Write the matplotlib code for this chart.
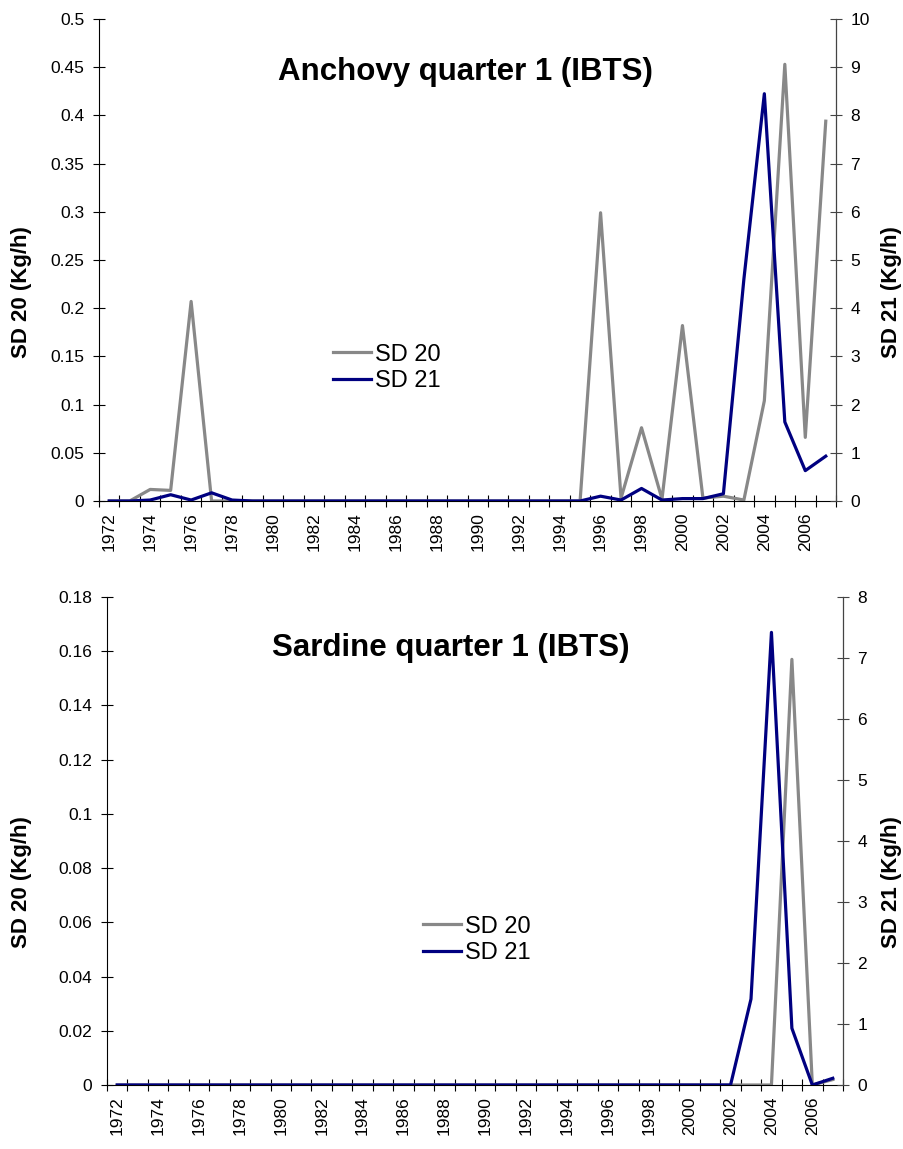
import matplotlib
matplotlib.use('agg')
import matplotlib.pyplot as plt
import numpy as np

plt.rcParams['font.family'] = ['Liberation Sans', 'DejaVu Sans']

years = list(range(1972, 2008))

# Anchovy quarter 1 (IBTS)
anchovy_sd20 = [0, 0, 0.012, 0.011, 0.207, 0, 0, 0, 0, 0,
                0, 0, 0, 0, 0, 0, 0, 0, 0, 0,
                0, 0, 0, 0, 0.299, 0.003, 0.076, 0.002, 0.182, 0.003,
                0.005, 0.001, 0.104, 0.453, 0.066, 0.394]
anchovy_sd21 = [0, 0, 0.02, 0.13, 0.02, 0.17, 0.02, 0, 0, 0,
                0, 0, 0, 0, 0, 0, 0, 0, 0, 0,
                0, 0, 0, 0, 0.1, 0.02, 0.26, 0.02, 0.05, 0.05,
                0.15, 4.6, 8.45, 1.64, 0.63, 0.93]

# Sardine quarter 1 (IBTS)
sardine_sd20 = [0] * 33 + [0.157, 0, 0.002]
sardine_sd21 = [0] * 30 + [0, 1.41, 7.42, 0.93, 0, 0.11]

GREY = '#888888'
NAVY = '#000080'
W, H = 904, 1149


def draw_panel(fig, rect, title, sd20, sd21, lmax, lstep, rmax, rstep,
               title_xy, legend_anchor, label_y):
    ax = fig.add_axes(rect)
    ax2 = ax.twinx()
    l1, = ax.plot(years, sd20, color=GREY, lw=2.3, label='SD 20')
    l2, = ax2.plot(years, sd21, color=NAVY, lw=2.3, label='SD 21')

    ax.set_xlim(years[0] - 0.5, years[-1] + 0.5)
    ax.set_ylim(0, lmax)
    ax2.set_ylim(0, rmax)
    lt = np.round(np.arange(0, lmax + lstep / 2, lstep), 3)
    rt = np.arange(0, rmax + rstep / 2, rstep)
    ax.set_yticks(lt)
    ax.set_yticklabels([f'{v:g}' for v in lt])
    ax2.set_yticks(rt)
    ax2.set_yticklabels([f'{v:g}' for v in rt])

    # category boundaries as ticks, labels on every other year
    ax.set_xticks(np.arange(years[0] - 0.5, years[-1] + 1, 1))
    ax.set_xticklabels([])
    ax.set_xticks(years[::2], minor=True)
    ax.set_xticklabels([str(y) for y in years[::2]], minor=True, rotation=90)
    ax.tick_params(axis='x', which='minor', length=0, pad=8, labelsize=12.5)
    ax.tick_params(axis='x', which='major', direction='inout', length=9)
    ax.tick_params(axis='y', direction='inout', length=9, labelsize=12.5, pad=6)
    ax2.tick_params(axis='y', direction='inout', length=9, labelsize=12.5, pad=6,
                    color='#444444')

    ax.spines['top'].set_visible(False)
    ax2.spines['top'].set_visible(False)
    ax2.spines['right'].set_color('#444444')
    ax2.spines['left'].set_visible(False)
    ax2.spines['bottom'].set_visible(False)

    # axis titles centred on the whole plot area (incl. the year labels)
    fig.text(22 / W, 1 - label_y / H, 'SD 20 (Kg/h)', rotation=90,
             fontsize=16, fontweight='bold', ha='center', va='center')
    fig.text(892 / W, 1 - label_y / H, 'SD 21 (Kg/h)', rotation=90,
             fontsize=16, fontweight='bold', ha='center', va='center')

    fig.text(title_xy[0], title_xy[1], title, fontsize=22.5, fontweight='bold',
             ha='center', va='center')
    ax2.legend([l1, l2], ['SD 20', 'SD 21'], loc='center left',
               bbox_to_anchor=legend_anchor, bbox_transform=fig.transFigure,
               frameon=False, fontsize=17, handlelength=1.6,
               handletextpad=0.15, labelspacing=0.2)


fig = plt.figure(figsize=(W / 100, H / 100), dpi=100)


def r(l, t, rr, b):
    return [l / W, 1 - b / H, (rr - l) / W, (b - t) / H]


draw_panel(fig, r(99, 19, 836, 501), 'Anchovy quarter 1 (IBTS)',
           anchovy_sd20, anchovy_sd21, 0.5, 0.05, 10, 1,
           (465 / W, 1 - 72 / H), (312 / W, 1 - 368 / H), 292)
draw_panel(fig, r(107, 597, 843, 1085), 'Sardine quarter 1 (IBTS)',
           sardine_sd20, sardine_sd21, 0.18, 0.02, 8, 1,
           (451 / W, 1 - 648 / H), (402 / W, 1 - 940 / H), 882)

fig.savefig('out.png', dpi=100)
